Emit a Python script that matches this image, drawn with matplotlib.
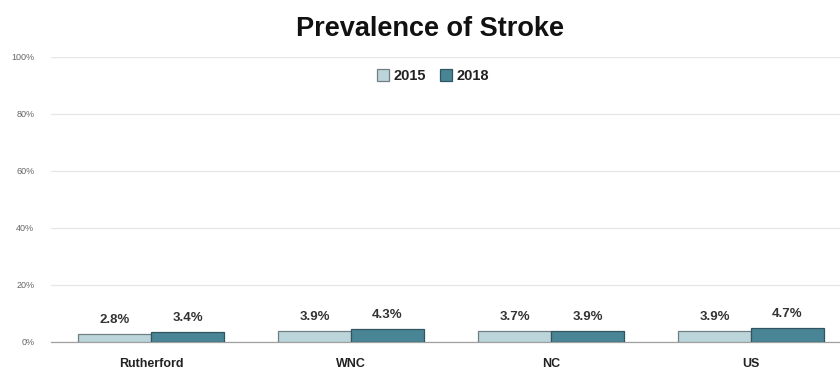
import matplotlib
matplotlib.use("Agg")
import matplotlib.pyplot as plt
import numpy as np

plt.rcParams['font.family'] = ['Liberation Sans', 'DejaVu Sans']

categories = ["Rutherford", "WNC", "NC", "US"]
years = ["2015", "2018"]
values_2015 = [2.8, 3.9, 3.7, 3.9]
values_2018 = [3.4, 4.3, 3.9, 4.7]
ytick_values = [0, 20, 40, 60, 80, 100]
ytick_labels = ["0%", "20%", "40%", "60%", "80%", "100%"]

colors = ["#bcd5da", "#4a8595"]
edges = ["#6f7f84", "#2e5560"]

fig = plt.figure(figsize=(8.4, 3.71), dpi=100)
ax = fig.add_axes([51 / 840, 1 - 341.7 / 371, 800 / 840, (341.7 - 56.7) / 371])

x = np.arange(len(categories))
w = 0.365
series = [values_2015, values_2018]
for i, vals in enumerate(series):
    offs = (i - 0.5) * w
    bars = ax.bar(x + offs, vals, width=w, color=colors[i], edgecolor=edges[i],
                  linewidth=0.9, label=years[i], zorder=3)
    for b, v in zip(bars, vals):
        ax.text(b.get_x() + b.get_width() / 2, v + 2.8, f"{v:.1f}%",
                ha="center", va="bottom", fontsize=9.5, fontweight="bold",
                color="#333333")

ax.set_xlim(-0.5, len(categories) - 0.5)
ax.set_ylim(0, 100)
ax.set_yticks(ytick_values)
ax.set_yticklabels(ytick_labels, fontsize=6.5, color="#666666")
ax.set_xticks(x)
ax.set_xticklabels(categories, fontsize=9, fontweight="bold", color="#222222")
ax.tick_params(axis="both", length=0)
ax.tick_params(axis="x", pad=12)
ax.tick_params(axis="y", pad=12)
ax.yaxis.grid(True, color="#e6e6e6", linewidth=0.9, zorder=0)
for s in ["top", "right", "left"]:
    ax.spines[s].set_visible(False)
ax.spines["bottom"].set_color("#a0a0a0")
ax.spines["bottom"].set_linewidth(0.9)

leg = fig.legend(loc="center", bbox_to_anchor=(433 / 840, 1 - 76 / 371), ncol=2,
                 frameon=False, handlelength=0.8, handleheight=0.8,
                 handletextpad=0.3, columnspacing=1.0,
                 prop={"size": 10.5, "weight": "bold"})
for t in leg.get_texts():
    t.set_color("#222222")

fig.text(430 / 840, 1 - 29 / 371, "Prevalence of Stroke", ha="center", va="center",
         fontsize=19.5, fontweight="bold", color="#111111")

fig.savefig("out.png", dpi=100, facecolor="white")
